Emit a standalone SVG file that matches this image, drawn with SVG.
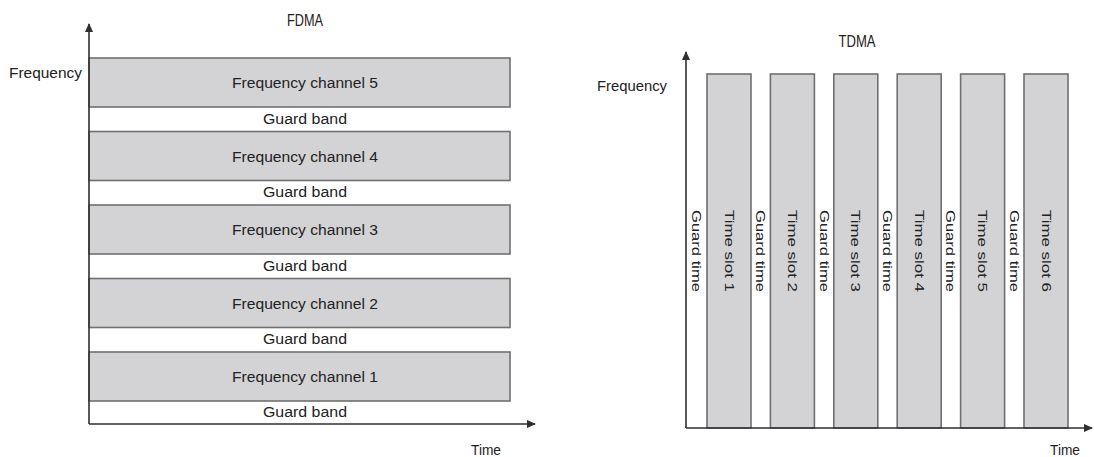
<svg xmlns="http://www.w3.org/2000/svg" width="1094" height="457" viewBox="0 0 1094 457">
  <style>
    text { font-family: "Liberation Sans", Arial, sans-serif; fill: #222222; }
    .title { font-size: 16px; text-anchor: middle; }
    .axislbl { font-size: 14px; }
    .lbl { font-size: 14px; text-anchor: middle; dominant-baseline: central; }
    .vlbl { font-size: 13.5px; dominant-baseline: central; }
    .band { fill: #d3d3d5; stroke: #707070; stroke-width: 1.6; }
    .axis { stroke: #2f2f2f; stroke-width: 1.6; fill: none; }
  </style>
  <defs>
    <marker id="arrow" markerWidth="10" markerHeight="10" refX="8" refY="5" orient="auto" markerUnits="userSpaceOnUse">
      <path d="M0,1 L9,5 L0,9 z" fill="#2f2f2f"/>
    </marker>
  </defs>
  <rect width="1094" height="457" fill="#ffffff"/>

  <!-- FDMA: frequency channels stacked along the frequency axis -->
  <g id="fdma">
    <text class="title" x="305" y="26" textLength="36" lengthAdjust="spacingAndGlyphs">FDMA</text>
    <text class="axislbl" x="9" y="78" textLength="73" lengthAdjust="spacingAndGlyphs">Frequency</text>
    <text class="axislbl" x="471" y="455" textLength="30" lengthAdjust="spacingAndGlyphs">Time</text>

    <g id="fdma-ch5"><rect class="band" x="89" y="58" width="421" height="49"/><text class="lbl" x="305" y="83" textLength="146" lengthAdjust="spacingAndGlyphs">Frequency channel 5</text></g>
    <g id="fdma-gb5"><text class="lbl" x="305" y="119" textLength="84" lengthAdjust="spacingAndGlyphs">Guard band</text></g>
    <g id="fdma-ch4"><rect class="band" x="89" y="131.5" width="421" height="49"/><text class="lbl" x="305" y="157" textLength="146" lengthAdjust="spacingAndGlyphs">Frequency channel 4</text></g>
    <g id="fdma-gb4"><text class="lbl" x="305" y="192" textLength="84" lengthAdjust="spacingAndGlyphs">Guard band</text></g>
    <g id="fdma-ch3"><rect class="band" x="89" y="205" width="421" height="49"/><text class="lbl" x="305" y="230" textLength="146" lengthAdjust="spacingAndGlyphs">Frequency channel 3</text></g>
    <g id="fdma-gb3"><text class="lbl" x="305" y="266" textLength="84" lengthAdjust="spacingAndGlyphs">Guard band</text></g>
    <g id="fdma-ch2"><rect class="band" x="89" y="278.5" width="421" height="49"/><text class="lbl" x="305" y="304" textLength="146" lengthAdjust="spacingAndGlyphs">Frequency channel 2</text></g>
    <g id="fdma-gb2"><text class="lbl" x="305" y="339" textLength="84" lengthAdjust="spacingAndGlyphs">Guard band</text></g>
    <g id="fdma-ch1"><rect class="band" x="89" y="352" width="421" height="49"/><text class="lbl" x="305" y="377" textLength="146" lengthAdjust="spacingAndGlyphs">Frequency channel 1</text></g>
    <g id="fdma-gb1"><text class="lbl" x="305" y="412" textLength="84" lengthAdjust="spacingAndGlyphs">Guard band</text></g>
  </g>

  <!-- TDMA: time slots side by side along the time axis -->
  <g id="tdma">
    <text class="title" x="857" y="47" textLength="37" lengthAdjust="spacingAndGlyphs">TDMA</text>
    <text class="axislbl" x="597" y="91" textLength="70" lengthAdjust="spacingAndGlyphs">Frequency</text>
    <text class="axislbl" x="1050" y="455" textLength="30" lengthAdjust="spacingAndGlyphs">Time</text>

    <g id="tdma-gt1"><text class="vlbl" transform="translate(696.5,210) rotate(90)" textLength="82" lengthAdjust="spacingAndGlyphs">Guard time</text></g>
    <g id="tdma-ts1"><rect class="band" x="707" y="74" width="44" height="354"/><text class="vlbl" transform="translate(729,210) rotate(90)" textLength="82" lengthAdjust="spacingAndGlyphs">Time slot 1</text></g>
    <g id="tdma-gt2"><text class="vlbl" transform="translate(760.7,210) rotate(90)" textLength="82" lengthAdjust="spacingAndGlyphs">Guard time</text></g>
    <g id="tdma-ts2"><rect class="band" x="770.4" y="74" width="44" height="354"/><text class="vlbl" transform="translate(792.4,210) rotate(90)" textLength="82" lengthAdjust="spacingAndGlyphs">Time slot 2</text></g>
    <g id="tdma-gt3"><text class="vlbl" transform="translate(824.1,210) rotate(90)" textLength="82" lengthAdjust="spacingAndGlyphs">Guard time</text></g>
    <g id="tdma-ts3"><rect class="band" x="833.8" y="74" width="44" height="354"/><text class="vlbl" transform="translate(855.8,210) rotate(90)" textLength="82" lengthAdjust="spacingAndGlyphs">Time slot 3</text></g>
    <g id="tdma-gt4"><text class="vlbl" transform="translate(887.5,210) rotate(90)" textLength="82" lengthAdjust="spacingAndGlyphs">Guard time</text></g>
    <g id="tdma-ts4"><rect class="band" x="897.2" y="74" width="44" height="354"/><text class="vlbl" transform="translate(919.2,210) rotate(90)" textLength="82" lengthAdjust="spacingAndGlyphs">Time slot 4</text></g>
    <g id="tdma-gt5"><text class="vlbl" transform="translate(950.9,210) rotate(90)" textLength="82" lengthAdjust="spacingAndGlyphs">Guard time</text></g>
    <g id="tdma-ts5"><rect class="band" x="960.6" y="74" width="44" height="354"/><text class="vlbl" transform="translate(982.6,210) rotate(90)" textLength="82" lengthAdjust="spacingAndGlyphs">Time slot 5</text></g>
    <g id="tdma-gt6"><text class="vlbl" transform="translate(1014.3,210) rotate(90)" textLength="82" lengthAdjust="spacingAndGlyphs">Guard time</text></g>
    <g id="tdma-ts6"><rect class="band" x="1024" y="74" width="44" height="354"/><text class="vlbl" transform="translate(1046,210) rotate(90)" textLength="82" lengthAdjust="spacingAndGlyphs">Time slot 6</text></g>
  </g>

  <!-- axes -->
  <g id="connectors">
    <line class="axis" x1="89" y1="424" x2="89" y2="24" marker-end="url(#arrow)"/>
    <line class="axis" x1="89" y1="424" x2="535" y2="424" marker-end="url(#arrow)"/>
    <line class="axis" x1="686" y1="428" x2="686" y2="52" marker-end="url(#arrow)"/>
    <line class="axis" x1="686" y1="428" x2="1092" y2="428" marker-end="url(#arrow)"/>
  </g>
</svg>
